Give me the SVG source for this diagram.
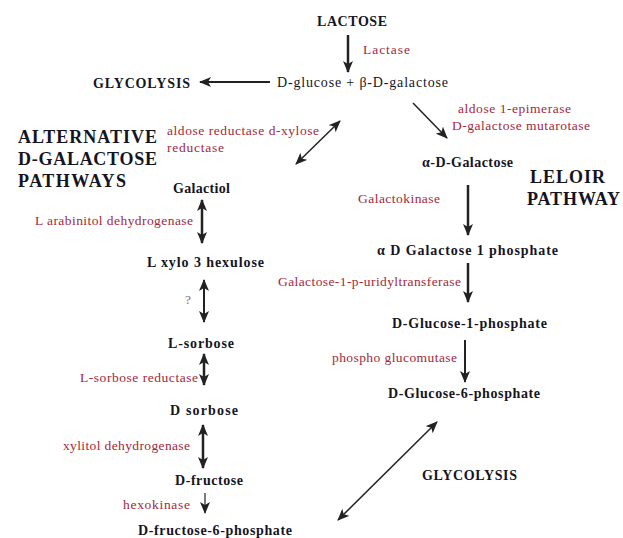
<svg xmlns="http://www.w3.org/2000/svg" width="623" height="538" viewBox="0 0 623 538">
<style>
.n{font-family:"Liberation Serif","Times New Roman",serif;font-weight:bold;font-size:14px;fill:#15151f}
.r{font-family:"Liberation Serif","Times New Roman",serif;font-size:13.5px;fill:#a3283c}
.p{font-family:"Liberation Serif","Times New Roman",serif;font-size:14px;fill:#15151f}
.h{font-family:"Liberation Serif","Times New Roman",serif;font-weight:bold;font-size:18px;fill:#15151f}
.a{stroke:#222;fill:none;marker-end:url(#ah)}
.d{stroke:#222;fill:none;marker-end:url(#ah);marker-start:url(#ah)}
</style>
<defs>
<marker id="ah" markerUnits="userSpaceOnUse" markerWidth="12" markerHeight="10" refX="11" refY="5" orient="auto-start-reverse" viewBox="0 0 12 10">
<path d="M0,0 L12,5 L0,10 L3,5 Z" fill="#222"/>
</marker>
</defs>
<rect width="623" height="538" fill="#fff"/>
<g id="connectors">
<line class="a" x1="348" y1="35" x2="348" y2="72" stroke-width="2.5"/>
<line class="a" x1="270" y1="82" x2="200" y2="82" stroke-width="2"/>
<line class="d" x1="296" y1="164" x2="340" y2="121" stroke-width="1.5"/>
<line class="a" x1="413" y1="103" x2="447" y2="138" stroke-width="1.5"/>
<line class="a" x1="468" y1="185" x2="468" y2="235" stroke-width="2.5"/>
<line class="a" x1="468" y1="263" x2="468" y2="302" stroke-width="2.5"/>
<line class="a" x1="465" y1="340" x2="465" y2="382" stroke-width="2"/>
<line class="d" x1="437" y1="422" x2="338" y2="520" stroke-width="1.5"/>
<line class="d" x1="202" y1="200" x2="202" y2="243" stroke-width="2.5"/>
<line class="d" x1="204" y1="280" x2="204" y2="322" stroke-width="2"/>
<line class="d" x1="204" y1="354" x2="204" y2="385" stroke-width="2.5"/>
<line class="d" x1="203" y1="425" x2="203" y2="468" stroke-width="2.5"/>
<line class="a" x1="205" y1="493" x2="205" y2="513" stroke-width="1.2"/>
</g>
<g id="lactose"><text class="n" x="317" y="26" textLength="70">LACTOSE</text></g>
<g id="lactase"><text class="r" x="363" y="54" textLength="47">Lactase</text></g>
<g id="glucose-galactose"><text class="p" x="277" y="87" textLength="171">D-glucose + β-D-galactose</text></g>
<g id="glycolysis-top"><text class="n" x="93" y="88" textLength="97">GLYCOLYSIS</text></g>
<g id="alt-title">
<text class="h" x="18" y="143" textLength="139">ALTERNATIVE</text>
<text class="h" x="18" y="165" textLength="139">D-GALACTOSE</text>
<text class="h" x="18" y="187" textLength="108">PATHWAYS</text>
</g>
<g id="aldose-reductase">
<text class="r" x="167" y="135" textLength="152">aldose reductase d-xylose</text>
<text class="r" x="167" y="152" textLength="57">reductase</text>
</g>
<g id="epimerase">
<text class="r" x="458" y="113" textLength="113">aldose 1-epimerase</text>
<text class="r" x="452" y="130" textLength="138">D-galactose mutarotase</text>
</g>
<g id="alpha-galactose"><text class="n" x="422" y="167" textLength="91">α-D-Galactose</text></g>
<g id="leloir">
<text class="h" x="530" y="183" textLength="75">LELOIR</text>
<text class="h" x="527" y="205" textLength="93">PATHWAY</text>
</g>
<g id="galactokinase"><text class="r" x="358" y="203" textLength="82">Galactokinase</text></g>
<g id="gal1p"><text class="n" x="377" y="255" textLength="181">α D Galactose 1 phosphate</text></g>
<g id="galt"><text class="r" x="278" y="286" textLength="183">Galactose-1-p-uridyltransferase</text></g>
<g id="glc1p"><text class="n" x="392" y="328" textLength="155">D-Glucose-1-phosphate</text></g>
<g id="pgm"><text class="r" x="332" y="362" textLength="125">phospho glucomutase</text></g>
<g id="glc6p"><text class="n" x="388" y="398" textLength="152">D-Glucose-6-phosphate</text></g>
<g id="glycolysis-bottom"><text class="n" x="422" y="480" textLength="95">GLYCOLYSIS</text></g>
<g id="galactiol"><text class="n" x="173" y="193" textLength="57">Galactiol</text></g>
<g id="arabinitol"><text class="r" x="35" y="225" textLength="158">L arabinitol dehydrogenase</text></g>
<g id="xylo-hexulose"><text class="n" x="147" y="267" textLength="117">L xylo 3 hexulose</text></g>
<g id="unknown"><text class="r" x="185" y="304" style="fill:#8a6a6a">?</text></g>
<g id="l-sorbose"><text class="n" x="168" y="348" textLength="66">L-sorbose</text></g>
<g id="sorbose-reductase"><text class="r" x="80" y="382" textLength="118">L-sorbose reductase</text></g>
<g id="d-sorbose"><text class="n" x="170" y="415" textLength="68">D sorbose</text></g>
<g id="xylitol"><text class="r" x="63" y="450" textLength="127">xylitol dehydrogenase</text></g>
<g id="d-fructose"><text class="n" x="175" y="485" textLength="68">D-fructose</text></g>
<g id="hexokinase"><text class="r" x="123" y="509" textLength="67">hexokinase</text></g>
<g id="fru6p"><text class="n" x="138" y="535" textLength="154">D-fructose-6-phosphate</text></g>
</svg>
